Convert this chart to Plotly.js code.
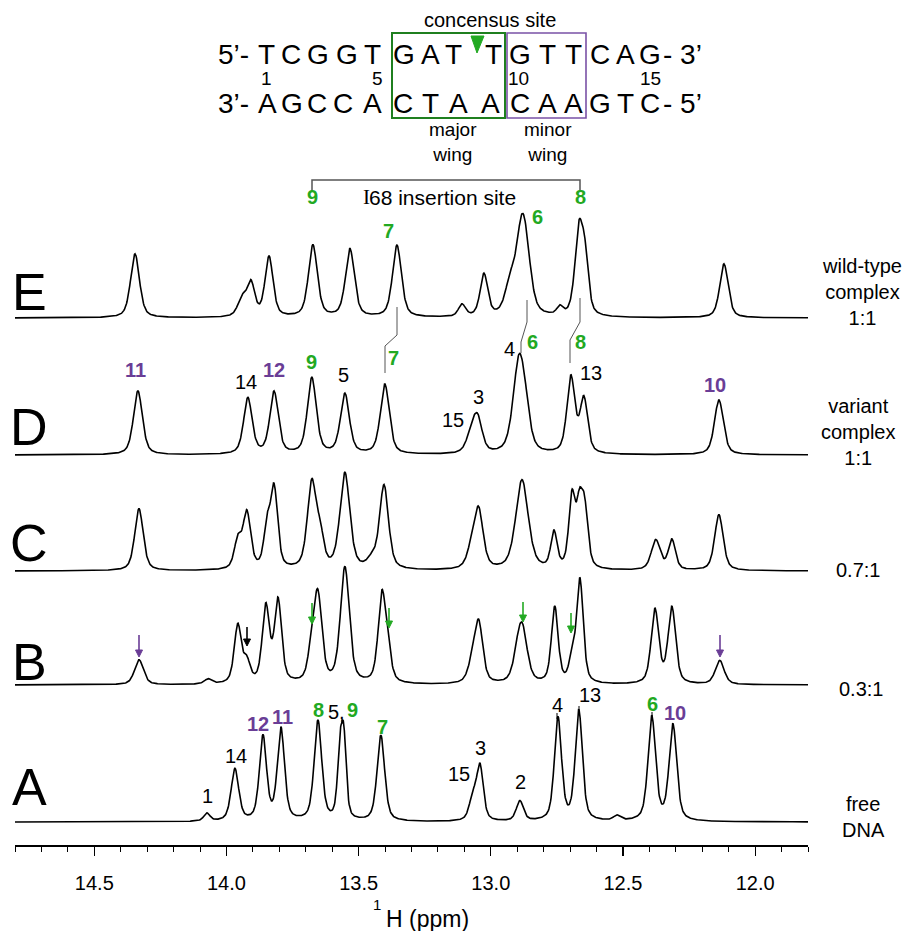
<!DOCTYPE html>
<html>
<head>
<meta charset="utf-8">
<script src="https://cdn.plot.ly/plotly-3.0.1.min.js"></script>
<style>html,body{margin:0;padding:0;background:#fff;}#chart{width:907px;height:931px;}</style>
</head>
<body>
<div id="chart"></div>
<script>
// ---------- DATA: imino 1H peak tables (ppm, relative height, half-width in ppm) ----------
const spectrumNames = ['A', 'B', 'C', 'D', 'E'];

const peaksA_ppm    = [14.074, 13.968, 13.862, 13.794, 13.654, 13.571, 13.556, 13.416, 13.068, 13.041, 12.890, 12.746, 12.667, 12.523, 12.391, 12.311];
const peaksA_height = [8, 52, 84, 92, 100, 62, 76, 86, 22, 54, 20, 103, 110, 5, 104, 96];
const peaksA_width  = [0.014, 0.017, 0.016, 0.016, 0.017, 0.011, 0.011, 0.017, 0.016, 0.015, 0.016, 0.016, 0.016, 0.015, 0.017, 0.017];

const peaksB_ppm    = [14.331, 14.070, 13.957, 13.923, 13.851, 13.805, 13.677, 13.654, 13.552, 13.412, 13.390, 13.068, 13.045, 12.895, 12.879, 12.758, 12.693, 12.663, 12.379, 12.315, 12.134];
const peaksB_height = [25, 5, 58, 20, 76, 82, 30, 84, 116, 86, 24, 20, 56, 26, 42, 76, 22, 104, 74, 76, 24];
const peaksB_width  = [0.020, 0.016, 0.016, 0.015, 0.016, 0.016, 0.016, 0.018, 0.020, 0.017, 0.016, 0.020, 0.018, 0.022, 0.022, 0.015, 0.013, 0.015, 0.017, 0.017, 0.020];

const peaksC_ppm    = [14.331, 13.957, 13.923, 13.847, 13.820, 13.677, 13.645, 13.552, 13.450, 13.404, 13.068, 13.045, 12.882, 12.761, 12.693, 12.665, 12.645, 12.376, 12.315, 12.137];
const peaksC_height = [62, 28, 56, 38, 80, 86, 28, 96, 8, 84, 22, 52, 90, 36, 70, 54, 56, 30, 30, 56];
const peaksC_width  = [0.019, 0.016, 0.017, 0.014, 0.016, 0.020, 0.016, 0.022, 0.020, 0.020, 0.022, 0.020, 0.028, 0.014, 0.014, 0.014, 0.015, 0.020, 0.016, 0.019];

const peaksD_ppm    = [14.335, 13.919, 13.820, 13.677, 13.552, 13.401, 13.072, 13.049, 12.894, 12.870, 12.697, 12.648, 12.137];
const peaksD_height = [64, 56, 62, 76, 60, 70, 20, 30, 88, 26, 76, 54, 55];
const peaksD_width  = [0.020, 0.019, 0.019, 0.020, 0.020, 0.020, 0.022, 0.020, 0.026, 0.022, 0.018, 0.017, 0.020];

const peaksE_ppm    = [14.346, 13.940, 13.907, 13.839, 13.673, 13.533, 13.355, 13.109, 13.026, 12.928, 12.882, 12.864, 12.739, 12.667, 12.644, 12.118];
const peaksE_height = [64, 18, 32, 60, 72, 68, 72, 12, 42, 26, 88, 20, 8, 82, 50, 54];
const peaksE_width  = [0.020, 0.020, 0.017, 0.018, 0.020, 0.020, 0.020, 0.016, 0.017, 0.022, 0.027, 0.022, 0.013, 0.018, 0.016, 0.019];

const tickValues = [14.5, 14.0, 13.5, 13.0, 12.5, 12.0];
const tickLabels = ['14.5', '14.0', '13.5', '13.0', '12.5', '12.0'];

const strandTop    = ['T','C','G','G','T','G','A','T','T','G','T','T','C','A','G'];
const strandBottom = ['A','G','C','C','A','C','T','A','A','C','A','A','G','T','C'];
const baseNumbers  = ['1', '5', '10', '15'];

// ---------- LAYOUT helpers (pixel -> axis / paper coordinates) ----------
const PPM_LEFT = 14.80, PPM_RIGHT = 11.80, PX_LEFT = 15, PX_RIGHT = 808, PX_AXIS = 845;
const PXPERPPM = (PX_RIGHT - PX_LEFT) / (PPM_LEFT - PPM_RIGHT);
const X = px => PPM_LEFT - (px - PX_LEFT) / PXPERPPM;
const Y = py => PX_AXIS - py;
const PXp = px => (px - PX_LEFT) / (PX_RIGHT - PX_LEFT);
const PYp = py => (PX_AXIS - py) / PX_AXIS;

const baselinePx = {E: 318, D: 455, C: 571, B: 685, A: 822};

const GREEN = '#22a922', PURPLE = '#6a3d96', BOXGREEN = '#1f7f1f', BOXPURPLE = '#7a52a6', GRAY = '#555555';
const FONT = 'Liberation Sans, Arial, sans-serif';

// sampling grid along the ppm axis
const grid = [];
for (let i = 0; i <= 1500; i++) grid.push(PPM_LEFT - i * (PPM_LEFT - PPM_RIGHT) / 1500);

// pseudo-Voigt line shape (half Lorentzian, half Gaussian)
function spectrum(ppm, h, w, offset) {
  return grid.map(x => {
    let s = offset;
    for (let k = 0; k < ppm.length; k++) {
      const r = (x - ppm[k]) / w[k];
      s += h[k] * (0.5 / (1 + r * r) + 0.5 * Math.exp(-Math.LN2 * r * r));
    }
    return s;
  });
}

const tables = {
  A: [peaksA_ppm, peaksA_height, peaksA_width],
  B: [peaksB_ppm, peaksB_height, peaksB_width],
  C: [peaksC_ppm, peaksC_height, peaksC_width],
  D: [peaksD_ppm, peaksD_height, peaksD_width],
  E: [peaksE_ppm, peaksE_height, peaksE_width]
};

const traces = spectrumNames.map(n => ({
  type: 'scatter', mode: 'lines', x: grid,
  y: spectrum(tables[n][0], tables[n][1], tables[n][2], Y(baselinePx[n])),
  line: {color: '#000', width: 1.6}, hoverinfo: 'skip', showlegend: false, name: n
}));

// ---------- annotations ----------
const ann = [];
function lab(px, py, text, color, size, bold, extra, family) {
  ann.push(Object.assign({
    x: PXp(px), y: PYp(py), xref: 'paper', yref: 'paper', showarrow: false,
    text: bold ? '<b>' + text + '</b>' : text,
    font: {family: family || FONT, size: size, color: color},
    xanchor: 'center', yanchor: 'middle'
  }, extra || {}));
}

// spectrum letters
const letterPx = {E: 292, D: 427, C: 543, B: 662, A: 787};
spectrumNames.forEach(n => lab(29, letterPx[n], n, '#000', 52, false));

// right-side labels
lab(862, 292, 'wild-type<br>complex<br>1:1', '#000', 20, false);
lab(858, 432, 'variant<br>complex<br>1:1', '#000', 20, false);
lab(858, 570, '0.7:1', '#000', 20, false);
lab(861, 689, '0.3:1', '#000', 20, false);
lab(863, 817, 'free<br>DNA', '#000', 20, false);

// E labels
lab(312, 197, '9', GREEN, 20, true);
lab(580, 197, '8', GREEN, 20, true);
lab(388, 231, '7', GREEN, 20, true);
lab(537, 217, '6', GREEN, 20, true);
lab(366, 197, 'I', '#000', 21, false, {}, 'Liberation Serif, Times New Roman, serif');
lab(367, 197, '68 insertion site', '#000', 21, false, {xanchor: 'left'});

// D labels
lab(135, 370, '11', PURPLE, 20, true);
lab(246, 382, '14', '#000', 20, false);
lab(274, 370, '12', PURPLE, 20, true);
lab(311, 362, '9', GREEN, 20, true);
lab(343, 375, '5', '#000', 20, false);
lab(393, 358, '7', GREEN, 20, true);
lab(453, 420, '15', '#000', 20, false);
lab(479, 397, '3', '#000', 20, false);
lab(510, 349, '4', '#000', 20, false);
lab(532, 342, '6', GREEN, 20, true);
lab(580, 342, '8', GREEN, 20, true);
lab(591, 373, '13', '#000', 20, false);
lab(715, 385, '10', PURPLE, 20, true);

// A labels
lab(207, 796, '1', '#000', 20, false);
lab(236, 756, '14', '#000', 20, false);
lab(258, 724, '12', PURPLE, 20, true);
lab(282, 717, '11', PURPLE, 20, true);
lab(318, 710, '8', GREEN, 20, true);
lab(336, 712, '5,', '#000', 20, false);
lab(352, 710, '9', GREEN, 20, true);
lab(382, 727, '7', GREEN, 20, true);
lab(459, 774, '15', '#000', 20, false);
lab(480, 748, '3', '#000', 20, false);
lab(520, 782, '2', '#000', 20, false);
lab(557, 705, '4', '#000', 20, false);
lab(590, 695, '13', '#000', 20, false);
lab(652, 704, '6', GREEN, 20, true);
lab(675, 713, '10', PURPLE, 20, true);

// DNA sequence
const topPx = [266,291,318,347,372,404,430,453,493,520,547,573,600,625,650];
const botPx = [267,292,317,343,372,403,430,458,490,520,547,573,600,625,650];
strandTop.forEach((b, i) => lab(topPx[i], 54, b, '#000', 28, false));
strandBottom.forEach((b, i) => lab(botPx[i], 103, b, '#000', 28, false));
lab(251, 54, '5\u2019-', '#000', 28, false, {xanchor: 'right'});
lab(251, 103, '3\u2019-', '#000', 28, false, {xanchor: 'right'});
lab(661, 54, '- 3\u2019', '#000', 28, false, {xanchor: 'left'});
lab(661, 103, '- 5\u2019', '#000', 28, false, {xanchor: 'left'});
const numPx = [266, 377, 518, 650];
baseNumbers.forEach((t, i) => lab(numPx[i], 78, t, '#000', 19, false));
lab(490, 20, 'concensus site', '#000', 20, false);
lab(453, 142, 'major<br>wing', '#000', 19, false);
lab(548, 142, 'minor<br>wing', '#000', 19, false);

// axis title: superscript "1" + "H (ppm)"
lab(383, 904, '1', '#000', 15, false, {xanchor: 'right'});
lab(384, 919, 'H (ppm)', '#000', 23, false, {xanchor: 'left'});

// ---------- shapes ----------
const shapes = [];
function path(points, color, width, fill) {
  const d = points.map((p, i) => (i ? 'L' : 'M') + X(p[0]) + ',' + Y(p[1])).join(' ') + (fill ? ' Z' : '');
  shapes.push({type: 'path', xref: 'x', yref: 'y', path: d,
    line: {color: color, width: width}, fillcolor: fill || 'rgba(0,0,0,0)', layer: 'above'});
}
function arrow(px, tailPy, tipPy, color) {
  path([[px, tailPy], [px, tipPy - 5]], color, 1.6);
  path([[px - 3.5, tipPy - 7], [px + 3.5, tipPy - 7], [px, tipPy]], color, 1, color);
}
shapes.push({type: 'rect', xref: 'x', yref: 'y', x0: X(392), x1: X(505), y0: Y(118), y1: Y(33), line: {color: BOXGREEN, width: 2}});
shapes.push({type: 'rect', xref: 'x', yref: 'y', x0: X(507), x1: X(586), y0: Y(118), y1: Y(33), line: {color: BOXPURPLE, width: 1.6}});
path([[471, 36], [484, 36], [477, 53]], GREEN, 1, GREEN);
path([[312, 191], [312, 180], [580, 180], [580, 191]], GRAY, 1.5);
path([[397, 307], [397, 335], [385, 346], [385, 373]], GRAY, 1);
path([[527, 300], [527, 322], [521, 342], [521, 353]], GRAY, 1);
path([[580, 298], [580, 322], [570, 340], [570, 363]], GRAY, 1);
path([[557, 713], [557, 719]], '#000', 1);
path([[579, 706], [579, 713]], '#000', 1);
path([[652, 712], [652, 718]], '#000', 1);
path([[342, 719], [342, 724]], '#000', 1);

// B arrows
arrow(139, 635, 657, PURPLE);
arrow(720, 635, 657, PURPLE);
arrow(247, 627, 646, '#000');
arrow(312, 603, 624, GREEN);
arrow(389, 608, 628, GREEN);
arrow(523, 602, 622, GREEN);
arrow(571, 613, 633, GREEN);

const layout = {
  width: 907, height: 931,
  margin: {l: PX_LEFT, r: 907 - PX_RIGHT, t: 0, b: 931 - PX_AXIS},
  paper_bgcolor: '#fff', plot_bgcolor: '#fff',
  showlegend: false,
  xaxis: {
    range: [PPM_LEFT, PPM_RIGHT], showgrid: false, zeroline: false,
    showline: true, linecolor: '#000', linewidth: 1.5,
    ticks: 'outside', ticklen: 9, tickwidth: 1.2, tickcolor: '#000',
    tickvals: tickValues, ticktext: tickLabels, ticklabelstandoff: 10,
    tickfont: {family: 'Liberation Sans Narrow, Arial Narrow, Liberation Sans, sans-serif', size: 20, color: '#000'},
    minor: {dtick: 0.1, tick0: 12.0, ticks: 'outside', ticklen: 5, tickwidth: 1, tickcolor: '#000', showgrid: false}
  },
  yaxis: {range: [0, PX_AXIS], visible: false, showgrid: false, zeroline: false},
  annotations: ann, shapes: shapes
};

Plotly.newPlot('chart', traces, layout, {displayModeBar: false, staticPlot: true});
</script>
</body>
</html>
